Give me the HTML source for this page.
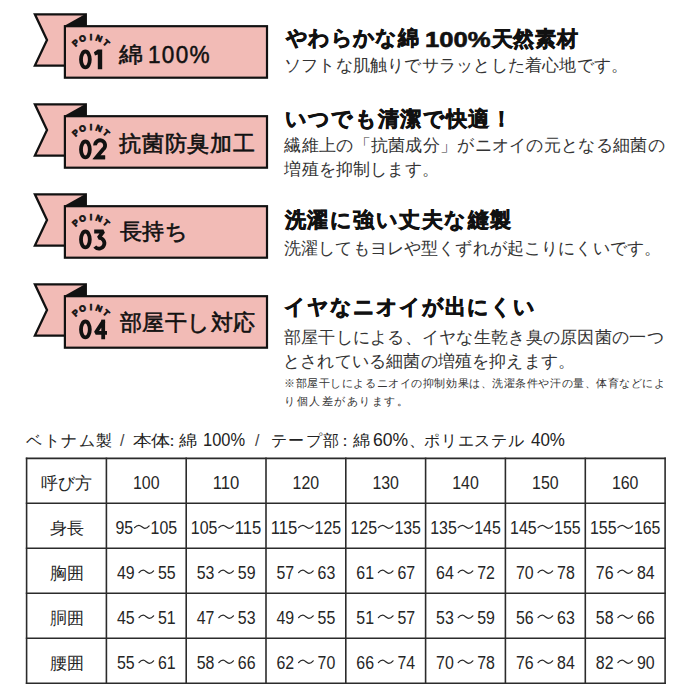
<!DOCTYPE html>
<html><head><meta charset="utf-8">
<style>
html,body{margin:0;padding:0;background:#fff;}
body{width:700px;height:700px;position:relative;overflow:hidden;font-family:"Liberation Sans",sans-serif;color:#111;}
.rb{position:absolute;left:0;}
.it{position:absolute;white-space:nowrap;line-height:1;transform-origin:0 0;}
.hl{position:absolute;background:#2b2b2b;}
</style></head><body>

<svg class="rb" style="top:0px" width="280" height="90" viewBox="0 0 280 90">
  <path d="M34.9 14.3 L85.6 14.3 L85.6 65.6 L34.9 65.6 L47 40 Z" fill="#f2bbb6" stroke="#111" stroke-width="2.3" stroke-linejoin="miter"/>
  <path d="M64 26 L86.75 13.15 L86.75 27 Z" fill="#111"/>
  <rect x="64.9" y="26.2" width="202.1" height="51.5" fill="#f2bbb6" stroke="#111" stroke-width="2.2"/>
  <g font-family="Liberation Sans" font-weight="bold" font-size="8.6" fill="#111" stroke="#111" stroke-width="0.75"><text x="90.85" y="39.9" transform="rotate(-43 90.85 59.4)" text-anchor="middle">P</text><text x="90.85" y="39.9" transform="rotate(-21.5 90.85 59.4)" text-anchor="middle">O</text><text x="90.85" y="39.9" transform="rotate(0 90.85 59.4)" text-anchor="middle">I</text><text x="90.85" y="39.9" transform="rotate(21.5 90.85 59.4)" text-anchor="middle">N</text><text x="90.85" y="39.9" transform="rotate(43 90.85 59.4)" text-anchor="middle">T</text></g>
  <ellipse cx="85.4" cy="59.45" rx="4.4" ry="7.95" fill="none" stroke="#111" stroke-width="3.8"/>
  <path d="M97.8 49.6 L102.2 49.6 L102.2 69.3 L97.8 69.3 L97.8 54.4 L95.0 55.6 L93.9 52.2 Z" fill="#111"/>
</svg>

<svg class="rb" style="top:90px" width="280" height="90" viewBox="0 0 280 90">
  <path d="M34.9 14.3 L85.6 14.3 L85.6 65.6 L34.9 65.6 L47 40 Z" fill="#f2bbb6" stroke="#111" stroke-width="2.3" stroke-linejoin="miter"/>
  <path d="M64 26 L86.75 13.15 L86.75 27 Z" fill="#111"/>
  <rect x="64.9" y="26.2" width="202.1" height="51.5" fill="#f2bbb6" stroke="#111" stroke-width="2.2"/>
  <g font-family="Liberation Sans" font-weight="bold" font-size="8.6" fill="#111" stroke="#111" stroke-width="0.75"><text x="90.85" y="39.9" transform="rotate(-43 90.85 59.4)" text-anchor="middle">P</text><text x="90.85" y="39.9" transform="rotate(-21.5 90.85 59.4)" text-anchor="middle">O</text><text x="90.85" y="39.9" transform="rotate(0 90.85 59.4)" text-anchor="middle">I</text><text x="90.85" y="39.9" transform="rotate(21.5 90.85 59.4)" text-anchor="middle">N</text><text x="90.85" y="39.9" transform="rotate(43 90.85 59.4)" text-anchor="middle">T</text></g>
  <ellipse cx="85.4" cy="59.45" rx="4.4" ry="7.95" fill="none" stroke="#111" stroke-width="3.8"/>
  <path d="M95.1 55.4 A5 5 0 1 1 103.2 59.2 L96.4 67.4 L105.1 67.4" fill="none" stroke="#111" stroke-width="3.8" stroke-linejoin="miter"/><path d="M93.3 69.3 L105.1 69.3 L105.1 65.5 L98.5 65.5 Z" fill="#111"/>
</svg>

<svg class="rb" style="top:180px" width="280" height="90" viewBox="0 0 280 90">
  <path d="M34.9 14.3 L85.6 14.3 L85.6 65.6 L34.9 65.6 L47 40 Z" fill="#f2bbb6" stroke="#111" stroke-width="2.3" stroke-linejoin="miter"/>
  <path d="M64 26 L86.75 13.15 L86.75 27 Z" fill="#111"/>
  <rect x="64.9" y="26.2" width="202.1" height="51.5" fill="#f2bbb6" stroke="#111" stroke-width="2.2"/>
  <g font-family="Liberation Sans" font-weight="bold" font-size="8.6" fill="#111" stroke="#111" stroke-width="0.75"><text x="90.85" y="39.9" transform="rotate(-43 90.85 59.4)" text-anchor="middle">P</text><text x="90.85" y="39.9" transform="rotate(-21.5 90.85 59.4)" text-anchor="middle">O</text><text x="90.85" y="39.9" transform="rotate(0 90.85 59.4)" text-anchor="middle">I</text><text x="90.85" y="39.9" transform="rotate(21.5 90.85 59.4)" text-anchor="middle">N</text><text x="90.85" y="39.9" transform="rotate(43 90.85 59.4)" text-anchor="middle">T</text></g>
  <ellipse cx="85.4" cy="59.45" rx="4.4" ry="7.95" fill="none" stroke="#111" stroke-width="3.8"/>
  <path d="M94.2 51.5 L103.4 51.5 L98.6 57.8 A5.4 5.4 0 1 1 94.8 66.6" fill="none" stroke="#111" stroke-width="3.8" stroke-linejoin="bevel"/>
</svg>

<svg class="rb" style="top:270px" width="280" height="90" viewBox="0 0 280 90">
  <path d="M34.9 14.3 L85.6 14.3 L85.6 65.6 L34.9 65.6 L47 40 Z" fill="#f2bbb6" stroke="#111" stroke-width="2.3" stroke-linejoin="miter"/>
  <path d="M64 26 L86.75 13.15 L86.75 27 Z" fill="#111"/>
  <rect x="64.9" y="26.2" width="202.1" height="51.5" fill="#f2bbb6" stroke="#111" stroke-width="2.2"/>
  <g font-family="Liberation Sans" font-weight="bold" font-size="8.6" fill="#111" stroke="#111" stroke-width="0.75"><text x="90.85" y="39.9" transform="rotate(-43 90.85 59.4)" text-anchor="middle">P</text><text x="90.85" y="39.9" transform="rotate(-21.5 90.85 59.4)" text-anchor="middle">O</text><text x="90.85" y="39.9" transform="rotate(0 90.85 59.4)" text-anchor="middle">I</text><text x="90.85" y="39.9" transform="rotate(21.5 90.85 59.4)" text-anchor="middle">N</text><text x="90.85" y="39.9" transform="rotate(43 90.85 59.4)" text-anchor="middle">T</text></g>
  <ellipse cx="85.4" cy="59.45" rx="4.4" ry="7.95" fill="none" stroke="#111" stroke-width="3.8"/>
  <path d="M103.2 69.3 V51.2 L95.7 62.8 H107" fill="none" stroke="#111" stroke-width="3.8" stroke-linejoin="bevel"/><path d="M101.3 49.6 H105.1 V53 H101.3 Z" fill="#111"/>
</svg>
<div class="it" id="it0" style="left:118.60px;top:43.70px;font-size:22.00px;color:#111;transform:scaleX(1.0875);letter-spacing:1.34px;-webkit-text-stroke:0.6px #111;">綿</div>
<div class="it" id="it1" style="left:148.00px;top:44.20px;font-size:23.30px;color:#111;transform:scaleX(0.9675);letter-spacing:1.34px;-webkit-text-stroke:0.5px #111;">100%</div>
<div class="it" id="it2" style="left:119.10px;top:133.05px;font-size:22.00px;color:#111;letter-spacing:0.78px;-webkit-text-stroke:0.6px #111;">抗菌防臭加工</div>
<div class="it" id="it3" style="left:119.60px;top:221.35px;font-size:22.00px;color:#111;letter-spacing:0.7px;-webkit-text-stroke:0.6px #111;">長持ち</div>
<div class="it" id="it4" style="left:119.60px;top:312.35px;font-size:22.00px;color:#111;letter-spacing:0.5px;-webkit-text-stroke:0.6px #111;">部屋干し対応</div>
<div class="it" id="it5" style="left:285.60px;top:26.50px;font-size:21.00px;color:#111;font-weight:bold;letter-spacing:0.464px;-webkit-text-stroke:0.6px #111;">やわらかな綿</div>
<div class="it" id="it6" style="left:425.00px;top:29.05px;font-size:22.00px;color:#111;font-weight:bold;transform:scaleX(1.1639);-webkit-text-stroke:0.6px #111;">100%</div>
<div class="it" id="it7" style="left:491.80px;top:27.50px;font-size:21.00px;color:#111;font-weight:bold;letter-spacing:0.662px;-webkit-text-stroke:0.6px #111;">天然素材</div>
<div class="it" id="it8" style="left:284.00px;top:57.00px;font-size:17.00px;color:#333;letter-spacing:0.211px;">ソフトな肌触りでサラッとした着心地です。</div>
<div class="it" id="it9" style="left:284.60px;top:107.75px;font-size:21.00px;color:#111;font-weight:bold;letter-spacing:1.352px;-webkit-text-stroke:0.6px #111;">いつでも清潔で快適！</div>
<div class="it" id="it10" style="left:284.40px;top:137.00px;font-size:17.00px;color:#333;letter-spacing:0.292px;">繊維上の「抗菌成分」がニオイの元となる細菌の</div>
<div class="it" id="it11" style="left:284.40px;top:160.85px;font-size:17.00px;color:#333;letter-spacing:0.175px;">増殖を抑制します。</div>
<div class="it" id="it12" style="left:285.00px;top:209.00px;font-size:21.00px;color:#111;font-weight:bold;letter-spacing:1.445px;-webkit-text-stroke:0.6px #111;">洗濯に強い丈夫な縫製</div>
<div class="it" id="it13" style="left:284.00px;top:240.25px;font-size:17.00px;color:#333;letter-spacing:0.143px;">洗濯してもヨレや型くずれが起こりにくいです。</div>
<div class="it" id="it14" style="left:284.30px;top:295.85px;font-size:21.00px;color:#111;font-weight:bold;letter-spacing:0.97px;-webkit-text-stroke:0.6px #111;">イヤなニオイが出にくい</div>
<div class="it" id="it15" style="left:283.70px;top:328.90px;font-size:17.00px;color:#333;letter-spacing:0.279px;">部屋干しによる、イヤな生乾き臭の原因菌の一つ</div>
<div class="it" id="it16" style="left:283.00px;top:353.10px;font-size:17.00px;color:#333;letter-spacing:0.188px;">とされている細菌の増殖を抑えます。</div>
<div class="it" id="it17" style="left:284.10px;top:377.80px;font-size:11.00px;color:#333;letter-spacing:0.561px;">※部屋干しによるニオイの抑制効果は、洗濯条件や汗の量、体育などによ</div>
<div class="it" id="it18" style="left:284.00px;top:395.80px;font-size:11.00px;color:#333;letter-spacing:1.519px;">り個人差があります。</div>
<div class="it" id="it19" style="left:26.00px;top:433.10px;font-size:16.00px;color:#222;letter-spacing:1.55px;">ベトナム製</div>
<div class="it" id="it20" style="left:120.00px;top:433.10px;font-size:16.00px;color:#444;">/</div>
<div class="it" id="it21" style="left:133.00px;top:433.10px;font-size:16.00px;color:#222;transform:scaleX(1.1803);">本</div>
<div class="it" id="it22" style="left:150.60px;top:433.10px;font-size:16.00px;color:#222;transform:scaleX(1.2041);">体</div>
<div class="it" id="it23" style="left:164.00px;top:433.10px;font-size:16.00px;color:#222;">：</div>
<div class="it" id="it24" style="left:179.00px;top:433.10px;font-size:16.00px;color:#222;transform:scaleX(1.1349);">綿</div>
<div class="it" id="it25" style="left:203.00px;top:432.33px;font-size:17.50px;color:#222;transform:scaleX(0.9395);">100%</div>
<div class="it" id="it26" style="left:255.00px;top:433.10px;font-size:16.00px;color:#444;">/</div>
<div class="it" id="it27" style="left:271.00px;top:433.10px;font-size:16.00px;color:#222;letter-spacing:1.33px;">テープ部</div>
<div class="it" id="it28" style="left:337.00px;top:433.10px;font-size:16.00px;color:#222;">：</div>
<div class="it" id="it29" style="left:353.00px;top:433.10px;font-size:16.00px;color:#222;transform:scaleX(1.0713);">綿</div>
<div class="it" id="it30" style="left:373.00px;top:432.33px;font-size:17.50px;color:#222;transform:scaleX(1.0033);">60%</div>
<div class="it" id="it31" style="left:409.40px;top:433.10px;font-size:16.00px;color:#222;">、</div>
<div class="it" id="it32" style="left:424.30px;top:433.10px;font-size:16.00px;color:#222;letter-spacing:0.72px;">ポリエステル</div>
<div class="it" id="it33" style="left:530.50px;top:432.33px;font-size:17.50px;color:#222;transform:scaleX(0.9693);">40%</div>
<svg style="position:absolute;left:0;top:0" width="700" height="700"><g stroke="#2b2b2b" stroke-width="1.6" stroke-linecap="square"><line x1="26.60" y1="458.40" x2="665.10" y2="458.40"/><line x1="26.60" y1="503.30" x2="665.10" y2="503.30"/><line x1="26.60" y1="548.30" x2="665.10" y2="548.30"/><line x1="26.60" y1="593.20" x2="665.10" y2="593.20"/><line x1="26.60" y1="638.20" x2="665.10" y2="638.20"/><line x1="26.60" y1="683.20" x2="665.10" y2="683.20"/><line x1="26.60" y1="458.40" x2="26.60" y2="683.20"/><line x1="106.40" y1="458.40" x2="106.40" y2="683.20"/><line x1="186.20" y1="458.40" x2="186.20" y2="683.20"/><line x1="266.00" y1="458.40" x2="266.00" y2="683.20"/><line x1="345.80" y1="458.40" x2="345.80" y2="683.20"/><line x1="425.60" y1="458.40" x2="425.60" y2="683.20"/><line x1="505.40" y1="458.40" x2="505.40" y2="683.20"/><line x1="585.30" y1="458.40" x2="585.30" y2="683.20"/><line x1="665.10" y1="458.40" x2="665.10" y2="683.20"/></g></svg>
<svg style="position:absolute;left:0;top:0" width="700" height="700" viewBox="0 0 700 700"><g fill="#262626" font-family="Liberation Sans"><text x="66.80" y="489.35" font-size="17" text-anchor="middle">呼び方</text><text x="133.02" y="488.75" font-size="18.3" textLength="26.56" lengthAdjust="spacingAndGlyphs">100</text><text x="212.82" y="488.75" font-size="18.3" textLength="26.56" lengthAdjust="spacingAndGlyphs">110</text><text x="292.62" y="488.75" font-size="18.3" textLength="26.56" lengthAdjust="spacingAndGlyphs">120</text><text x="372.42" y="488.75" font-size="18.3" textLength="26.56" lengthAdjust="spacingAndGlyphs">130</text><text x="452.22" y="488.75" font-size="18.3" textLength="26.56" lengthAdjust="spacingAndGlyphs">140</text><text x="532.07" y="488.75" font-size="18.3" textLength="26.56" lengthAdjust="spacingAndGlyphs">150</text><text x="611.92" y="488.75" font-size="18.3" textLength="26.56" lengthAdjust="spacingAndGlyphs">160</text><text x="66.80" y="534.30" font-size="17" text-anchor="middle">身長</text><text x="115.46" y="533.70" font-size="18.3" textLength="17.71" lengthAdjust="spacingAndGlyphs">95</text><path d="M134.57 527.65 C136.07 525.80 137.57 525.25 138.87 525.25 C141.07 525.25 142.67 528.35 144.87 528.35 C146.17 528.35 147.67 527.80 149.17 525.95" fill="none" stroke="#262626" stroke-width="1.25" stroke-linecap="round"/><text x="150.57" y="533.70" font-size="18.3" textLength="26.56" lengthAdjust="spacingAndGlyphs">105</text><text x="190.84" y="533.70" font-size="18.3" textLength="26.56" lengthAdjust="spacingAndGlyphs">105</text><path d="M218.80 527.65 C220.30 525.80 221.80 525.25 223.10 525.25 C225.30 525.25 226.90 528.35 229.10 528.35 C230.40 528.35 231.90 527.80 233.40 525.95" fill="none" stroke="#262626" stroke-width="1.25" stroke-linecap="round"/><text x="234.80" y="533.70" font-size="18.3" textLength="26.56" lengthAdjust="spacingAndGlyphs">115</text><text x="270.64" y="533.70" font-size="18.3" textLength="26.56" lengthAdjust="spacingAndGlyphs">115</text><path d="M298.60 527.65 C300.10 525.80 301.60 525.25 302.90 525.25 C305.10 525.25 306.70 528.35 308.90 528.35 C310.20 528.35 311.70 527.80 313.20 525.95" fill="none" stroke="#262626" stroke-width="1.25" stroke-linecap="round"/><text x="314.60" y="533.70" font-size="18.3" textLength="26.56" lengthAdjust="spacingAndGlyphs">125</text><text x="350.44" y="533.70" font-size="18.3" textLength="26.56" lengthAdjust="spacingAndGlyphs">125</text><path d="M378.40 527.65 C379.90 525.80 381.40 525.25 382.70 525.25 C384.90 525.25 386.50 528.35 388.70 528.35 C390.00 528.35 391.50 527.80 393.00 525.95" fill="none" stroke="#262626" stroke-width="1.25" stroke-linecap="round"/><text x="394.40" y="533.70" font-size="18.3" textLength="26.56" lengthAdjust="spacingAndGlyphs">135</text><text x="430.24" y="533.70" font-size="18.3" textLength="26.56" lengthAdjust="spacingAndGlyphs">135</text><path d="M458.20 527.65 C459.70 525.80 461.20 525.25 462.50 525.25 C464.70 525.25 466.30 528.35 468.50 528.35 C469.80 528.35 471.30 527.80 472.80 525.95" fill="none" stroke="#262626" stroke-width="1.25" stroke-linecap="round"/><text x="474.20" y="533.70" font-size="18.3" textLength="26.56" lengthAdjust="spacingAndGlyphs">145</text><text x="510.09" y="533.70" font-size="18.3" textLength="26.56" lengthAdjust="spacingAndGlyphs">145</text><path d="M538.05 527.65 C539.55 525.80 541.05 525.25 542.35 525.25 C544.55 525.25 546.15 528.35 548.35 528.35 C549.65 528.35 551.15 527.80 552.65 525.95" fill="none" stroke="#262626" stroke-width="1.25" stroke-linecap="round"/><text x="554.05" y="533.70" font-size="18.3" textLength="26.56" lengthAdjust="spacingAndGlyphs">155</text><text x="589.94" y="533.70" font-size="18.3" textLength="26.56" lengthAdjust="spacingAndGlyphs">155</text><path d="M617.90 527.65 C619.40 525.80 620.90 525.25 622.20 525.25 C624.40 525.25 626.00 528.35 628.20 528.35 C629.50 528.35 631.00 527.80 632.50 525.95" fill="none" stroke="#262626" stroke-width="1.25" stroke-linecap="round"/><text x="633.90" y="533.70" font-size="18.3" textLength="26.56" lengthAdjust="spacingAndGlyphs">165</text><text x="66.80" y="579.25" font-size="17" text-anchor="middle">胸囲</text><text x="116.89" y="578.65" font-size="18.3" textLength="17.71" lengthAdjust="spacingAndGlyphs">49</text><path d="M139.00 572.60 C140.50 570.75 142.00 570.20 143.30 570.20 C145.50 570.20 147.10 573.30 149.30 573.30 C150.60 573.30 152.10 572.75 153.60 570.90" fill="none" stroke="#262626" stroke-width="1.25" stroke-linecap="round"/><text x="158.00" y="578.65" font-size="18.3" textLength="17.71" lengthAdjust="spacingAndGlyphs">55</text><text x="196.69" y="578.65" font-size="18.3" textLength="17.71" lengthAdjust="spacingAndGlyphs">53</text><path d="M218.80 572.60 C220.30 570.75 221.80 570.20 223.10 570.20 C225.30 570.20 226.90 573.30 229.10 573.30 C230.40 573.30 231.90 572.75 233.40 570.90" fill="none" stroke="#262626" stroke-width="1.25" stroke-linecap="round"/><text x="237.80" y="578.65" font-size="18.3" textLength="17.71" lengthAdjust="spacingAndGlyphs">59</text><text x="276.49" y="578.65" font-size="18.3" textLength="17.71" lengthAdjust="spacingAndGlyphs">57</text><path d="M298.60 572.60 C300.10 570.75 301.60 570.20 302.90 570.20 C305.10 570.20 306.70 573.30 308.90 573.30 C310.20 573.30 311.70 572.75 313.20 570.90" fill="none" stroke="#262626" stroke-width="1.25" stroke-linecap="round"/><text x="317.60" y="578.65" font-size="18.3" textLength="17.71" lengthAdjust="spacingAndGlyphs">63</text><text x="356.29" y="578.65" font-size="18.3" textLength="17.71" lengthAdjust="spacingAndGlyphs">61</text><path d="M378.40 572.60 C379.90 570.75 381.40 570.20 382.70 570.20 C384.90 570.20 386.50 573.30 388.70 573.30 C390.00 573.30 391.50 572.75 393.00 570.90" fill="none" stroke="#262626" stroke-width="1.25" stroke-linecap="round"/><text x="397.40" y="578.65" font-size="18.3" textLength="17.71" lengthAdjust="spacingAndGlyphs">67</text><text x="436.09" y="578.65" font-size="18.3" textLength="17.71" lengthAdjust="spacingAndGlyphs">64</text><path d="M458.20 572.60 C459.70 570.75 461.20 570.20 462.50 570.20 C464.70 570.20 466.30 573.30 468.50 573.30 C469.80 573.30 471.30 572.75 472.80 570.90" fill="none" stroke="#262626" stroke-width="1.25" stroke-linecap="round"/><text x="477.20" y="578.65" font-size="18.3" textLength="17.71" lengthAdjust="spacingAndGlyphs">72</text><text x="515.94" y="578.65" font-size="18.3" textLength="17.71" lengthAdjust="spacingAndGlyphs">70</text><path d="M538.05 572.60 C539.55 570.75 541.05 570.20 542.35 570.20 C544.55 570.20 546.15 573.30 548.35 573.30 C549.65 573.30 551.15 572.75 552.65 570.90" fill="none" stroke="#262626" stroke-width="1.25" stroke-linecap="round"/><text x="557.05" y="578.65" font-size="18.3" textLength="17.71" lengthAdjust="spacingAndGlyphs">78</text><text x="595.79" y="578.65" font-size="18.3" textLength="17.71" lengthAdjust="spacingAndGlyphs">76</text><path d="M617.90 572.60 C619.40 570.75 620.90 570.20 622.20 570.20 C624.40 570.20 626.00 573.30 628.20 573.30 C629.50 573.30 631.00 572.75 632.50 570.90" fill="none" stroke="#262626" stroke-width="1.25" stroke-linecap="round"/><text x="636.90" y="578.65" font-size="18.3" textLength="17.71" lengthAdjust="spacingAndGlyphs">84</text><text x="66.80" y="624.20" font-size="17" text-anchor="middle">胴囲</text><text x="116.89" y="623.60" font-size="18.3" textLength="17.71" lengthAdjust="spacingAndGlyphs">45</text><path d="M139.00 617.55 C140.50 615.70 142.00 615.15 143.30 615.15 C145.50 615.15 147.10 618.25 149.30 618.25 C150.60 618.25 152.10 617.70 153.60 615.85" fill="none" stroke="#262626" stroke-width="1.25" stroke-linecap="round"/><text x="158.00" y="623.60" font-size="18.3" textLength="17.71" lengthAdjust="spacingAndGlyphs">51</text><text x="196.69" y="623.60" font-size="18.3" textLength="17.71" lengthAdjust="spacingAndGlyphs">47</text><path d="M218.80 617.55 C220.30 615.70 221.80 615.15 223.10 615.15 C225.30 615.15 226.90 618.25 229.10 618.25 C230.40 618.25 231.90 617.70 233.40 615.85" fill="none" stroke="#262626" stroke-width="1.25" stroke-linecap="round"/><text x="237.80" y="623.60" font-size="18.3" textLength="17.71" lengthAdjust="spacingAndGlyphs">53</text><text x="276.49" y="623.60" font-size="18.3" textLength="17.71" lengthAdjust="spacingAndGlyphs">49</text><path d="M298.60 617.55 C300.10 615.70 301.60 615.15 302.90 615.15 C305.10 615.15 306.70 618.25 308.90 618.25 C310.20 618.25 311.70 617.70 313.20 615.85" fill="none" stroke="#262626" stroke-width="1.25" stroke-linecap="round"/><text x="317.60" y="623.60" font-size="18.3" textLength="17.71" lengthAdjust="spacingAndGlyphs">55</text><text x="356.29" y="623.60" font-size="18.3" textLength="17.71" lengthAdjust="spacingAndGlyphs">51</text><path d="M378.40 617.55 C379.90 615.70 381.40 615.15 382.70 615.15 C384.90 615.15 386.50 618.25 388.70 618.25 C390.00 618.25 391.50 617.70 393.00 615.85" fill="none" stroke="#262626" stroke-width="1.25" stroke-linecap="round"/><text x="397.40" y="623.60" font-size="18.3" textLength="17.71" lengthAdjust="spacingAndGlyphs">57</text><text x="436.09" y="623.60" font-size="18.3" textLength="17.71" lengthAdjust="spacingAndGlyphs">53</text><path d="M458.20 617.55 C459.70 615.70 461.20 615.15 462.50 615.15 C464.70 615.15 466.30 618.25 468.50 618.25 C469.80 618.25 471.30 617.70 472.80 615.85" fill="none" stroke="#262626" stroke-width="1.25" stroke-linecap="round"/><text x="477.20" y="623.60" font-size="18.3" textLength="17.71" lengthAdjust="spacingAndGlyphs">59</text><text x="515.94" y="623.60" font-size="18.3" textLength="17.71" lengthAdjust="spacingAndGlyphs">56</text><path d="M538.05 617.55 C539.55 615.70 541.05 615.15 542.35 615.15 C544.55 615.15 546.15 618.25 548.35 618.25 C549.65 618.25 551.15 617.70 552.65 615.85" fill="none" stroke="#262626" stroke-width="1.25" stroke-linecap="round"/><text x="557.05" y="623.60" font-size="18.3" textLength="17.71" lengthAdjust="spacingAndGlyphs">63</text><text x="595.79" y="623.60" font-size="18.3" textLength="17.71" lengthAdjust="spacingAndGlyphs">58</text><path d="M617.90 617.55 C619.40 615.70 620.90 615.15 622.20 615.15 C624.40 615.15 626.00 618.25 628.20 618.25 C629.50 618.25 631.00 617.70 632.50 615.85" fill="none" stroke="#262626" stroke-width="1.25" stroke-linecap="round"/><text x="636.90" y="623.60" font-size="18.3" textLength="17.71" lengthAdjust="spacingAndGlyphs">66</text><text x="66.80" y="669.20" font-size="17" text-anchor="middle">腰囲</text><text x="116.89" y="668.60" font-size="18.3" textLength="17.71" lengthAdjust="spacingAndGlyphs">55</text><path d="M139.00 662.55 C140.50 660.70 142.00 660.15 143.30 660.15 C145.50 660.15 147.10 663.25 149.30 663.25 C150.60 663.25 152.10 662.70 153.60 660.85" fill="none" stroke="#262626" stroke-width="1.25" stroke-linecap="round"/><text x="158.00" y="668.60" font-size="18.3" textLength="17.71" lengthAdjust="spacingAndGlyphs">61</text><text x="196.69" y="668.60" font-size="18.3" textLength="17.71" lengthAdjust="spacingAndGlyphs">58</text><path d="M218.80 662.55 C220.30 660.70 221.80 660.15 223.10 660.15 C225.30 660.15 226.90 663.25 229.10 663.25 C230.40 663.25 231.90 662.70 233.40 660.85" fill="none" stroke="#262626" stroke-width="1.25" stroke-linecap="round"/><text x="237.80" y="668.60" font-size="18.3" textLength="17.71" lengthAdjust="spacingAndGlyphs">66</text><text x="276.49" y="668.60" font-size="18.3" textLength="17.71" lengthAdjust="spacingAndGlyphs">62</text><path d="M298.60 662.55 C300.10 660.70 301.60 660.15 302.90 660.15 C305.10 660.15 306.70 663.25 308.90 663.25 C310.20 663.25 311.70 662.70 313.20 660.85" fill="none" stroke="#262626" stroke-width="1.25" stroke-linecap="round"/><text x="317.60" y="668.60" font-size="18.3" textLength="17.71" lengthAdjust="spacingAndGlyphs">70</text><text x="356.29" y="668.60" font-size="18.3" textLength="17.71" lengthAdjust="spacingAndGlyphs">66</text><path d="M378.40 662.55 C379.90 660.70 381.40 660.15 382.70 660.15 C384.90 660.15 386.50 663.25 388.70 663.25 C390.00 663.25 391.50 662.70 393.00 660.85" fill="none" stroke="#262626" stroke-width="1.25" stroke-linecap="round"/><text x="397.40" y="668.60" font-size="18.3" textLength="17.71" lengthAdjust="spacingAndGlyphs">74</text><text x="436.09" y="668.60" font-size="18.3" textLength="17.71" lengthAdjust="spacingAndGlyphs">70</text><path d="M458.20 662.55 C459.70 660.70 461.20 660.15 462.50 660.15 C464.70 660.15 466.30 663.25 468.50 663.25 C469.80 663.25 471.30 662.70 472.80 660.85" fill="none" stroke="#262626" stroke-width="1.25" stroke-linecap="round"/><text x="477.20" y="668.60" font-size="18.3" textLength="17.71" lengthAdjust="spacingAndGlyphs">78</text><text x="515.94" y="668.60" font-size="18.3" textLength="17.71" lengthAdjust="spacingAndGlyphs">76</text><path d="M538.05 662.55 C539.55 660.70 541.05 660.15 542.35 660.15 C544.55 660.15 546.15 663.25 548.35 663.25 C549.65 663.25 551.15 662.70 552.65 660.85" fill="none" stroke="#262626" stroke-width="1.25" stroke-linecap="round"/><text x="557.05" y="668.60" font-size="18.3" textLength="17.71" lengthAdjust="spacingAndGlyphs">84</text><text x="595.79" y="668.60" font-size="18.3" textLength="17.71" lengthAdjust="spacingAndGlyphs">82</text><path d="M617.90 662.55 C619.40 660.70 620.90 660.15 622.20 660.15 C624.40 660.15 626.00 663.25 628.20 663.25 C629.50 663.25 631.00 662.70 632.50 660.85" fill="none" stroke="#262626" stroke-width="1.25" stroke-linecap="round"/><text x="636.90" y="668.60" font-size="18.3" textLength="17.71" lengthAdjust="spacingAndGlyphs">90</text></g></svg>
</body></html>
